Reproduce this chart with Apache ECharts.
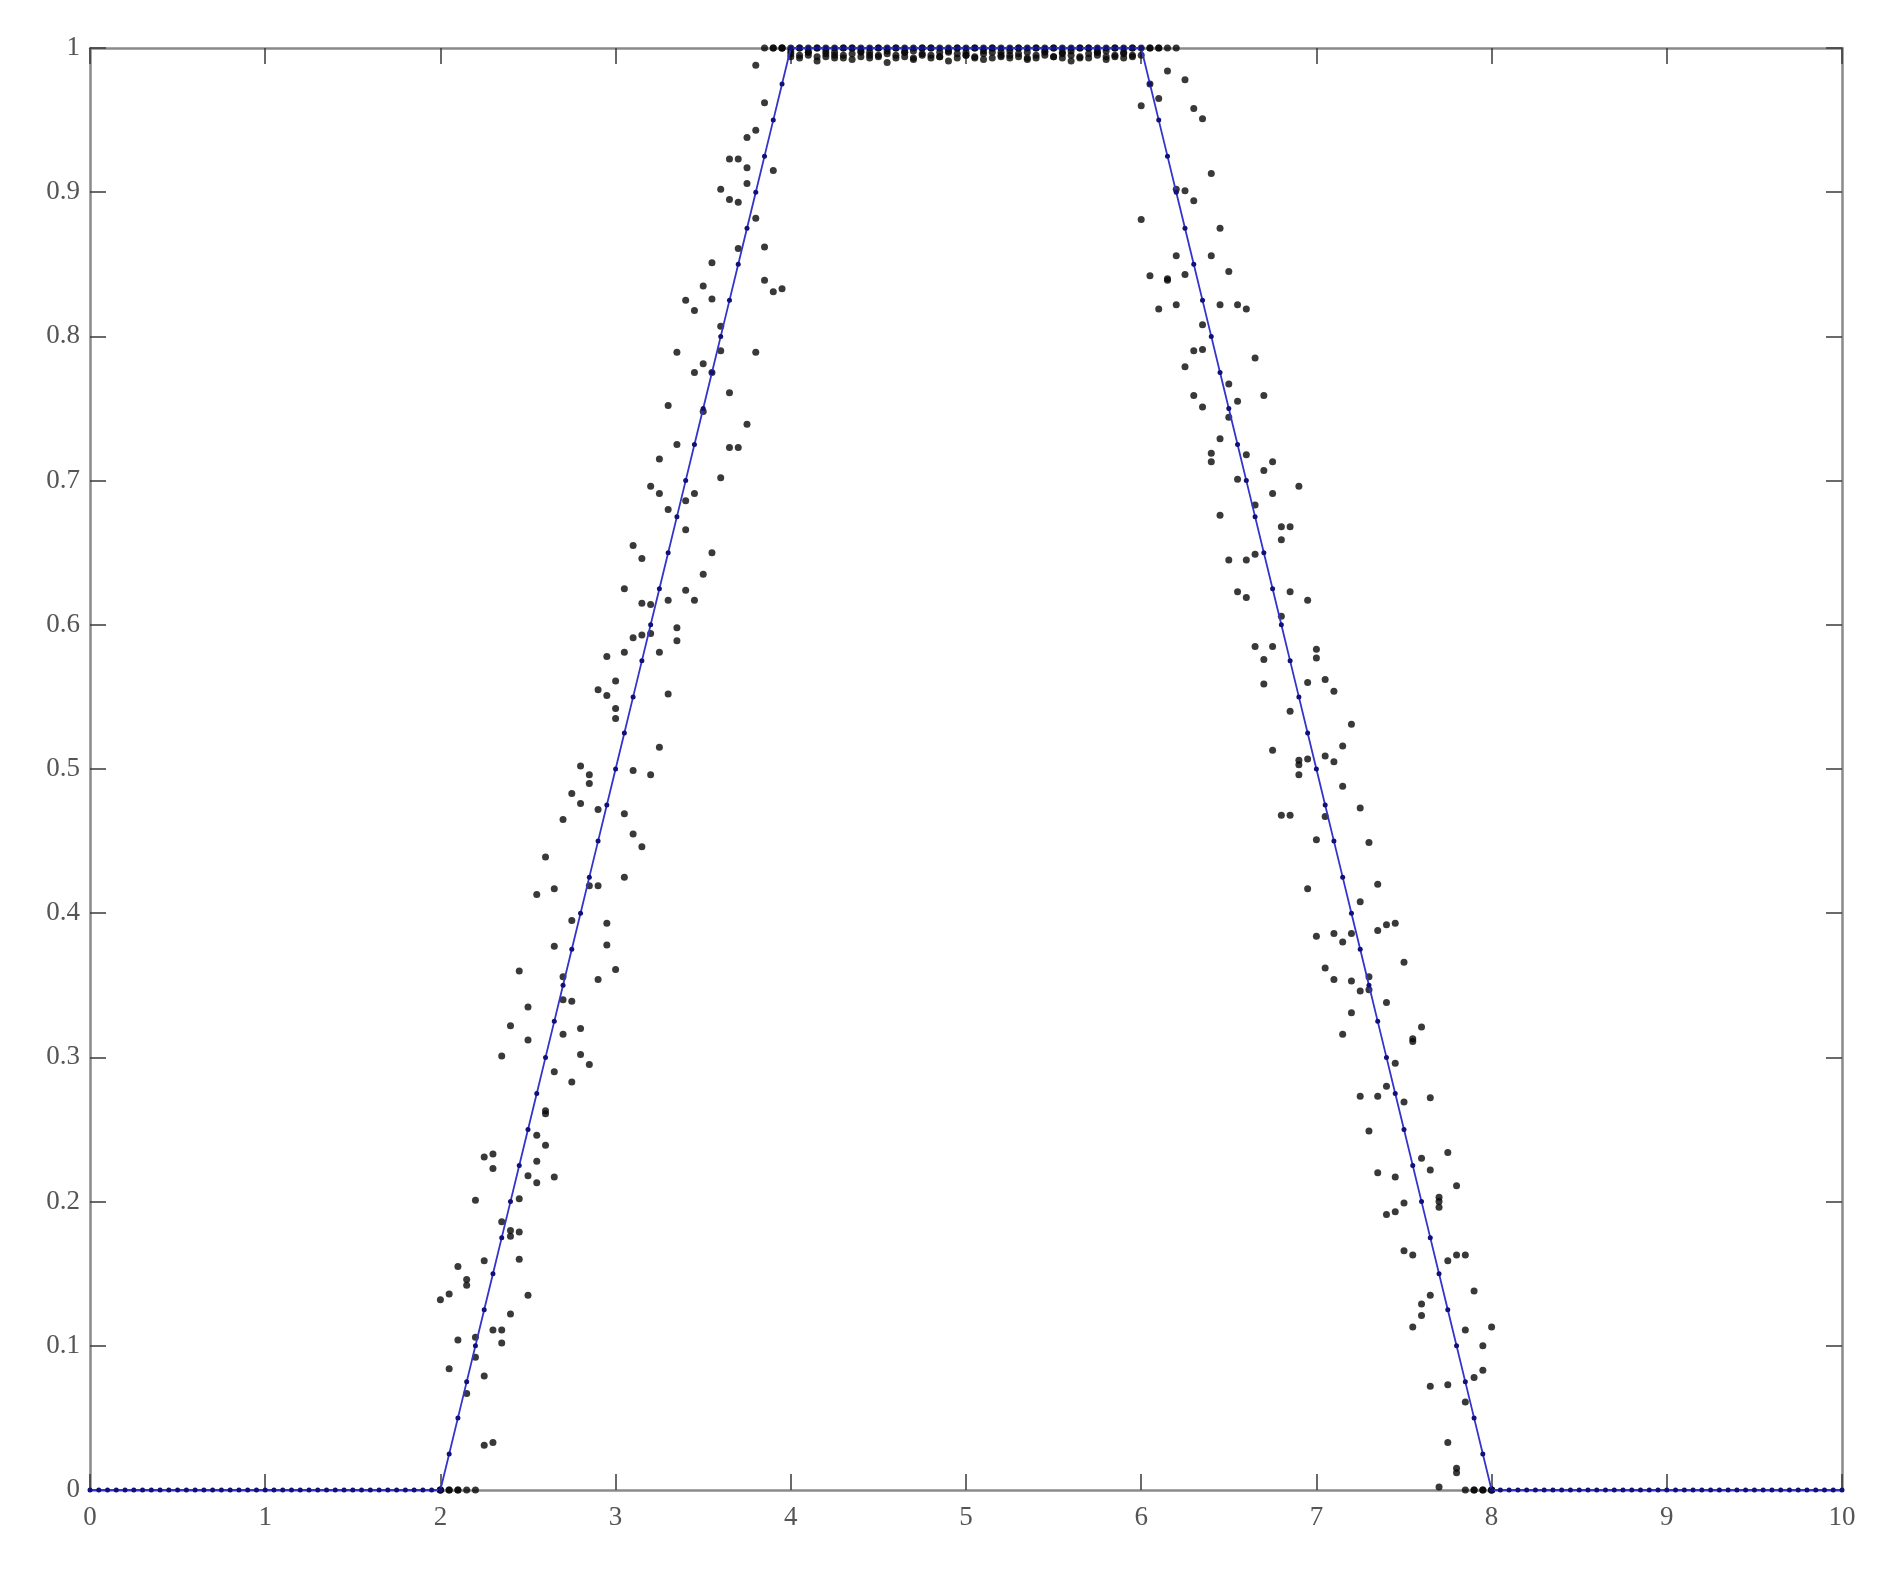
<!DOCTYPE html>
<html>
<head>
<meta charset="utf-8">
<script src="https://cdn.jsdelivr.net/npm/echarts@6/dist/echarts.min.js"></script>
<style>
html,body{margin:0;padding:0;background:#fff;}
#chart{width:1882px;height:1578px;}
</style>
</head>
<body>
<div id="chart"></div>
<script>
// Ideal trapezoid (blue line with markers)
var gridX = [0,0.05,0.1,0.15,0.2,0.25,0.3,0.35,0.4,0.45,0.5,0.55,0.6,0.65,0.7,0.75,0.8,0.85,0.9,0.95,
1,1.05,1.1,1.15,1.2,1.25,1.3,1.35,1.4,1.45,1.5,1.55,1.6,1.65,1.7,1.75,1.8,1.85,1.9,1.95,
2,2.05,2.1,2.15,2.2,2.25,2.3,2.35,2.4,2.45,2.5,2.55,2.6,2.65,2.7,2.75,2.8,2.85,2.9,2.95,
3,3.05,3.1,3.15,3.2,3.25,3.3,3.35,3.4,3.45,3.5,3.55,3.6,3.65,3.7,3.75,3.8,3.85,3.9,3.95,
4,4.05,4.1,4.15,4.2,4.25,4.3,4.35,4.4,4.45,4.5,4.55,4.6,4.65,4.7,4.75,4.8,4.85,4.9,4.95,
5,5.05,5.1,5.15,5.2,5.25,5.3,5.35,5.4,5.45,5.5,5.55,5.6,5.65,5.7,5.75,5.8,5.85,5.9,5.95,
6,6.05,6.1,6.15,6.2,6.25,6.3,6.35,6.4,6.45,6.5,6.55,6.6,6.65,6.7,6.75,6.8,6.85,6.9,6.95,
7,7.05,7.1,7.15,7.2,7.25,7.3,7.35,7.4,7.45,7.5,7.55,7.6,7.65,7.7,7.75,7.8,7.85,7.9,7.95,
8,8.05,8.1,8.15,8.2,8.25,8.3,8.35,8.4,8.45,8.5,8.55,8.6,8.65,8.7,8.75,8.8,8.85,8.9,8.95,
9,9.05,9.1,9.15,9.2,9.25,9.3,9.35,9.4,9.45,9.5,9.55,9.6,9.65,9.7,9.75,9.8,9.85,9.9,9.95,
10];
var idealY = [0,0,0,0,0,0,0,0,0,0,0,0,0,0,0,0,0,0,0,0,
0,0,0,0,0,0,0,0,0,0,0,0,0,0,0,0,0,0,0,0,
0,0.025,0.05,0.075,0.1,0.125,0.15,0.175,0.2,0.225,0.25,0.275,0.3,0.325,0.35,0.375,0.4,0.425,0.45,0.475,
0.5,0.525,0.55,0.575,0.6,0.625,0.65,0.675,0.7,0.725,0.75,0.775,0.8,0.825,0.85,0.875,0.9,0.925,0.95,0.975,
1,1,1,1,1,1,1,1,1,1,1,1,1,1,1,1,1,1,1,1,
1,1,1,1,1,1,1,1,1,1,1,1,1,1,1,1,1,1,1,1,
1,0.975,0.95,0.925,0.9,0.875,0.85,0.825,0.8,0.775,0.75,0.725,0.7,0.675,0.65,0.625,0.6,0.575,0.55,0.525,
0.5,0.475,0.45,0.425,0.4,0.375,0.35,0.325,0.3,0.275,0.25,0.225,0.2,0.175,0.15,0.125,0.1,0.075,0.05,0.025,
0,0,0,0,0,0,0,0,0,0,0,0,0,0,0,0,0,0,0,0,
0,0,0,0,0,0,0,0,0,0,0,0,0,0,0,0,0,0,0,0,
0];

// Noisy samples: 4 replicates at each x from 2 to 8
var sampleX = [2,2.05,2.1,2.15,2.2,2.25,2.3,2.35,2.4,2.45,2.5,2.55,2.6,2.65,2.7,2.75,2.8,2.85,2.9,2.95,
3,3.05,3.1,3.15,3.2,3.25,3.3,3.35,3.4,3.45,3.5,3.55,3.6,3.65,3.7,3.75,3.8,3.85,3.9,3.95,
4,4.05,4.1,4.15,4.2,4.25,4.3,4.35,4.4,4.45,4.5,4.55,4.6,4.65,4.7,4.75,4.8,4.85,4.9,4.95,
5,5.05,5.1,5.15,5.2,5.25,5.3,5.35,5.4,5.45,5.5,5.55,5.6,5.65,5.7,5.75,5.8,5.85,5.9,5.95,
6,6.05,6.1,6.15,6.2,6.25,6.3,6.35,6.4,6.45,6.5,6.55,6.6,6.65,6.7,6.75,6.8,6.85,6.9,6.95,
7,7.05,7.1,7.15,7.2,7.25,7.3,7.35,7.4,7.45,7.5,7.55,7.6,7.65,7.7,7.75,7.8,7.85,7.9,7.95,
8];
var rep1 = [0.132,0.136,0.155,0.146,0.201,0.231,0.233,0.301,0.322,0.360,0.335,0.413,0.439,0.417,0.465,0.483,0.502,0.496,0.555,0.578,
0.561,0.625,0.655,0.646,0.696,0.715,0.752,0.789,0.825,0.818,0.835,0.851,0.902,0.923,0.923,0.938,0.988,1,1,1,
1,1,1,1,1,1,1,1,1,1,1,1,1,1,1,1,1,1,1,1,
1,1,1,1,1,1,1,1,1,1,1,1,1,1,1,1,1,1,1,1,
1,1,1,1,1,0.978,0.958,0.951,0.913,0.875,0.845,0.822,0.819,0.785,0.759,0.713,0.668,0.668,0.696,0.617,
0.583,0.562,0.554,0.516,0.531,0.473,0.449,0.420,0.392,0.393,0.366,0.313,0.321,0.272,0.203,0.234,0.211,0.163,0.138,0.100,
0.113];
var rep2 = [0,0.084,0.104,0.142,0.106,0.159,0.223,0.186,0.180,0.202,0.312,0.246,0.263,0.377,0.356,0.395,0.476,0.490,0.472,0.551,
0.542,0.581,0.591,0.615,0.614,0.691,0.680,0.725,0.686,0.775,0.781,0.826,0.807,0.895,0.893,0.917,0.943,0.962,1,1,
0.998,1,0.997,1,0.998,0.997,1,1,0.998,0.997,1,0.998,1,0.997,0.998,1,1,0.997,0.998,1,
0.997,1,0.998,1,0.997,0.998,1,0.997,1,0.998,1,0.997,0.998,1,1,0.997,0.998,1,0.997,1,
0.995,1,1,0.984,0.902,0.901,0.894,0.808,0.856,0.822,0.767,0.755,0.718,0.683,0.707,0.691,0.659,0.623,0.506,0.560,
0.577,0.509,0.505,0.488,0.386,0.408,0.356,0.388,0.338,0.296,0.269,0.311,0.230,0.222,0.200,0.159,0.163,0.111,0.078,0.083,
0];
var rep3 = [0,0,0,0.067,0.092,0.079,0.111,0.111,0.176,0.179,0.218,0.228,0.261,0.290,0.316,0.339,0.320,0.419,0.419,0.393,
0.535,0.469,0.499,0.593,0.594,0.581,0.617,0.598,0.666,0.691,0.748,0.775,0.790,0.761,0.861,0.906,0.882,0.862,0.915,1,
0.996,0.995,0.997,0.994,0.996,0.995,0.993,0.996,0.997,0.995,0.994,0.996,0.995,0.997,0.993,0.996,0.995,0.994,0.997,0.996,
0.995,0.993,0.996,0.997,0.994,0.995,0.996,0.993,0.995,0.997,0.994,0.996,0.995,0.993,0.996,0.997,0.994,0.995,0.996,0.994,
0.960,0.975,0.965,0.840,0.856,0.843,0.790,0.791,0.719,0.729,0.744,0.701,0.645,0.649,0.576,0.585,0.606,0.540,0.503,0.507,
0.451,0.467,0.386,0.380,0.353,0.346,0.347,0.273,0.280,0.217,0.199,0.163,0.129,0.135,0.196,0.073,0.015,0.061,0,0,
0];
var rep4 = [0,0,0,0,0,0.031,0.033,0.102,0.122,0.160,0.135,0.213,0.239,0.217,0.340,0.283,0.302,0.295,0.354,0.378,
0.361,0.425,0.455,0.446,0.496,0.515,0.552,0.589,0.624,0.617,0.635,0.650,0.702,0.723,0.723,0.739,0.789,0.839,0.831,0.833,
0.994,0.993,0.995,0.991,0.994,0.993,0.995,0.992,0.994,0.993,0.995,0.990,0.993,0.994,0.992,0.995,0.993,0.994,0.991,0.993,
0.995,0.994,0.992,0.993,0.995,0.993,0.994,0.992,0.993,0.995,0.994,0.993,0.991,0.994,0.993,0.995,0.992,0.994,0.993,0.995,
0.881,0.842,0.819,0.839,0.822,0.779,0.759,0.751,0.713,0.676,0.645,0.623,0.619,0.585,0.559,0.513,0.468,0.468,0.496,0.417,
0.384,0.362,0.354,0.316,0.331,0.273,0.249,0.220,0.191,0.193,0.166,0.113,0.121,0.072,0.002,0.033,0.012,0,0,0,
0];

var xTicks = [0,1,2,3,4,5,6,7,8,9,10];
var yTicks = [0,0.1,0.2,0.3,0.4,0.5,0.6,0.7,0.8,0.9,1];

var idealData = gridX.map(function(x,i){ return [x, idealY[i]]; });
var noisyData = [];
[rep1, rep2, rep3, rep4].forEach(function(rep){
  sampleX.forEach(function(x,i){ noisyData.push([x, rep[i]]); });
});

var fontFamily = "'Liberation Serif','DejaVu Serif',serif";
var axisLineStyle = {color:'#8a8a8a', width:2.5};
var tickStyle = {color:'#3a3a3a', width:1.5};

function xAxisCfg(pos, showLabel){
  return {
    type:'value', position:pos, min:0, max:10, interval:1,
    axisLine:{show:true, onZero:false, lineStyle:axisLineStyle},
    axisTick:{show:true, inside:true, length:16, lineStyle:tickStyle},
    axisLabel:{show:showLabel, margin:14, fontFamily:fontFamily, fontSize:27, color:'#555',
      formatter:function(v){ return xTicks.indexOf(v) >= 0 ? String(v) : ''; }},
    splitLine:{show:false}
  };
}
function yAxisCfg(pos, showLabel){
  return {
    type:'value', position:pos, min:0, max:1, interval:0.1,
    axisLine:{show:true, onZero:false, lineStyle:axisLineStyle},
    axisTick:{show:true, inside:true, length:16, lineStyle:tickStyle},
    axisLabel:{show:showLabel, margin:10, fontFamily:fontFamily, fontSize:27, color:'#555',
      formatter:function(v){ var r = Math.round(v*10)/10; return yTicks.indexOf(r) >= 0 ? String(r) : ''; }},
    splitLine:{show:false}
  };
}

var chart = echarts.init(document.getElementById('chart'), null, {renderer:'canvas'});
chart.setOption({
  animation:false,
  backgroundColor:'#ffffff',
  grid:{left:90, right:40, top:48, bottom:88, containLabel:false},
  xAxis:[xAxisCfg('bottom', true), xAxisCfg('top', false)],
  yAxis:[yAxisCfg('left', true), yAxisCfg('right', false)],
  series:[
    {
      type:'scatter', xAxisIndex:0, yAxisIndex:0, data:noisyData,
      symbol:'circle', symbolSize:7, clip:false,
      itemStyle:{color:'#080808'}, z:2
    },
    {
      type:'line', xAxisIndex:0, yAxisIndex:0, data:idealData,
      showSymbol:true, showAllSymbol:true, symbol:'circle', symbolSize:5, clip:false,
      lineStyle:{color:'#3434cc', width:1.8},
      itemStyle:{color:'#10107a', borderWidth:0}, z:3
    }
  ]
});
</script>
</body>
</html>
